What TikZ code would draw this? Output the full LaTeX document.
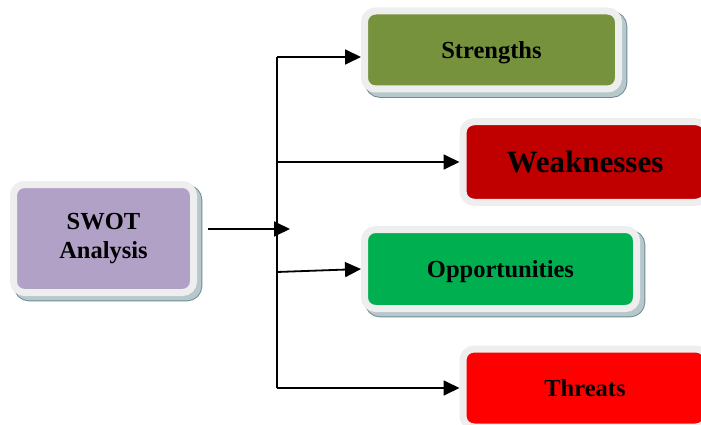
\documentclass[tikz,border=0pt]{standalone}
\usepackage{fontspec}
\setmainfont{Liberation Serif}
\usetikzlibrary{arrows.meta,shadows}
\definecolor{framec}{RGB}{238,238,238}
\definecolor{shadowc}{RGB}{182,200,204}
\definecolor{shadowe}{RGB}{110,140,148}
\definecolor{swotc}{RGB}{178,161,199}
\definecolor{strc}{RGB}{118,146,60}
\definecolor{weakc}{RGB}{192,0,0}
\definecolor{oppc}{RGB}{0,176,80}
\definecolor{thrc}{RGB}{255,0,0}
\begin{document}
\begin{tikzpicture}[x=1pt,y=-1pt,
  card/.style={draw=framec, line width=7pt, rounded corners=11pt, align=center,
    font=\bfseries\fontsize{24.5}{29}\selectfont, inner sep=0pt},
  oneline/.style={text depth=0pt},
  shad/.style={
    drop shadow={shadow xshift=4.5pt, shadow yshift=-4.5pt, fill=shadowe, draw=shadowe, line width=8.6pt, opacity=1},
    drop shadow={shadow xshift=4.5pt, shadow yshift=-4.5pt, fill=shadowc, draw=shadowc, line width=6.6pt, opacity=1}},
  link/.style={line width=1.8pt, -{Triangle[length=16pt,width=15pt]}},
  trunk/.style={line width=1.8pt}]
\useasboundingbox (0,0) rectangle (701,425);
\clip (0,0) rectangle (701,425);
\node[card, shad, fill=swotc, minimum width=180pt, minimum height=108pt] (swot) at (103.5,238.5) {SWOT\\Analysis};
\node[card, oneline, shad, fill=strc, minimum width=254pt, minimum height=78pt] (str) at (491.5,50) {Strengths};
\node[card, oneline, fill=weakc, minimum width=244pt, minimum height=80.5pt, font=\bfseries\fontsize{31}{35}\selectfont] (weak) at (585,162) {Weaknesses};
\node[card, oneline, shad, fill=oppc, minimum width=272pt, minimum height=79pt] (opp) at (500.5,269) {Opportunities};
\node[card, oneline, fill=thrc, minimum width=244pt, minimum height=78pt] (thr) at (585,388) {Threats};
\coordinate (top) at (277,57);
\coordinate (b2) at (277,162);
\coordinate (b3) at (277,272);
\coordinate (bot) at (277,388);
\coordinate (s0) at (208,229);
\coordinate (jt) at (290,229);
\draw[trunk] (top) -- (bot);
\draw[link] (s0) -- (jt);
\draw[link] (top) -- (top -| str.west);
\draw[link] (b2) -- (b2 -| weak.west);
\draw[link] (b3) -- (opp.west);
\draw[link] (bot) -- (thr.west);
\end{tikzpicture}
\end{document}
